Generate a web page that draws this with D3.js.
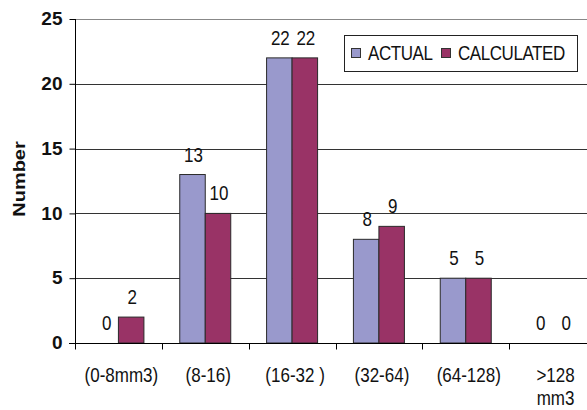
<!DOCTYPE html>
<html>
<head>
<meta charset="utf-8">
<script src="https://cdn.jsdelivr.net/npm/d3@7"></script>
<style>
  html, body { margin: 0; padding: 0; background: #fff; }
  svg { display: block; font-family: "Liberation Sans", Arial, sans-serif; }
</style>
</head>
<body>
<svg id="chart" width="587" height="410"></svg>
<script>
// Size classes (volume ranges) and the two series
const categories = ["(0-8mm3)", "(8-16)", "(16-32 )", "(32-64)", "(64-128)", ">128\nmm3"];
const seriesNames = ["ACTUAL", "CALCULATED"];
const actual = [0, 13, 22, 8, 5, 0];
const calculated = [2, 10, 22, 9, 5, 0];
const yTicks = [0, 5, 10, 15, 20, 25];
const colors = ["#9999cc", "#993366"];

const svg = d3.select("#chart");
const W = 587;
const plotLeft = 75, plotRight = 596, plotTop = 19, plotBottom = 343;
const squeeze = 0.85; // narrow type: glyphs drawn at 85% width

const x = d3.scaleBand().domain(categories).range([plotLeft, plotRight]).padding(0);
const y = d3.scaleLinear().domain([0, 25]).range([plotBottom, plotTop]);
const groupW = 51;
const xs = d3.scaleBand().domain(seriesNames).range([0, groupW]).padding(0);

// places a narrow text label at (px, py)
function narrowText(sel, px, py) {
  return sel.attr("x", 0).attr("y", 0)
    .attr("transform", (d, i) => `translate(${px(d, i)},${py(d, i)}) scale(${squeeze},1)`);
}

// horizontal gridlines
svg.append("g").selectAll("line").data(yTicks.filter(d => d > 0)).join("line")
  .attr("x1", plotLeft).attr("x2", W)
  .attr("y1", d => Math.round(y(d)) + 0.5).attr("y2", d => Math.round(y(d)) + 0.5)
  .attr("stroke", d => d === 25 ? "#888" : "#333").attr("stroke-width", 1);

// bars
const rows = categories.map((c, i) => ({ c, vals: [actual[i], calculated[i]] }));
const groups = svg.append("g").selectAll("g").data(rows).join("g")
  .attr("transform", d => `translate(${x(d.c) + x.bandwidth() / 2 - groupW / 2},0)`);

groups.selectAll("rect").data(d => d.vals.map((v, j) => ({ v, s: seriesNames[j], j }))).join("rect")
  .filter(d => d.v > 0)
  .attr("x", d => xs(d.s))
  .attr("y", d => y(d.v))
  .attr("width", xs.bandwidth())
  .attr("height", d => y(0) - y(d.v))
  .attr("fill", d => colors[d.j])
  .attr("stroke", "#2a2a2a").attr("stroke-width", 1);

// value labels
narrowText(
  groups.selectAll("text").data(d => d.vals.map((v, j) => ({ v, s: seriesNames[j] }))).join("text"),
  d => xs(d.s) + xs.bandwidth() / 2 + 1,
  d => y(d.v) - 13
)
  .attr("text-anchor", "middle")
  .attr("font-size", 20)
  .attr("fill", "#111")
  .text(d => d.v);

// y axis
const yAxis = d3.axisLeft(y).tickValues(yTicks).tickSize(6).tickPadding(7);
const gy = svg.append("g").attr("transform", `translate(${plotLeft + 0.5},0)`).call(yAxis);
gy.select(".domain").attr("stroke", "#000").attr("d", `M0,${plotTop}V${plotBottom}`);
gy.selectAll(".tick line").attr("stroke", "#000");
gy.selectAll(".tick text")
  .attr("font-size", 19).attr("font-weight", "bold")
  .attr("font-family", "Liberation Sans, Arial, sans-serif")
  .attr("fill", "#111").attr("dy", "0.3em");

// x axis
const xAxis = d3.axisBottom(x).tickSize(0).tickFormat("");
const gx = svg.append("g").attr("transform", `translate(0,${plotBottom + 0.5})`).call(xAxis);
gx.select(".domain").attr("stroke", "#000").attr("d", `M${plotLeft - 6},0H${W}`);
// ticks at the category boundaries
gx.append("g").selectAll("line").data(categories).join("line")
  .attr("x1", d => Math.round(x(d)) + 0.5).attr("x2", d => Math.round(x(d)) + 0.5)
  .attr("y1", 0).attr("y2", 6).attr("stroke", "#000");

// category labels (second line for the open-ended class)
const catLines = categories.flatMap(c => c.split("\n").map((line, k) => ({ c, line, k })));
narrowText(
  svg.append("g").selectAll("text").data(catLines).join("text"),
  d => x(d.c) + x.bandwidth() / 2 + 3,
  d => 382 + d.k * 23
)
  .attr("text-anchor", "middle")
  .attr("font-size", 20)
  .attr("fill", "#111")
  .text(d => d.line);

// axis title
svg.append("text")
  .attr("transform", `translate(25,179) scale(${squeeze},1) rotate(-90)`)
  .attr("text-anchor", "middle")
  .attr("font-size", 20).attr("font-weight", "bold")
  .attr("fill", "#111")
  .text("Number");

// legend
const lg = svg.append("g");
lg.append("rect").attr("x", 344.5).attr("y", 35.5).attr("width", 233).attr("height", 36)
  .attr("fill", "#fff").attr("stroke", "#222");
const legendX = [351, 441];
seriesNames.forEach((s, i) => {
  lg.append("rect").attr("x", legendX[i] + 0.5).attr("y", 48.5).attr("width", 9).attr("height", 9)
    .attr("fill", colors[i]).attr("stroke", "#333");
  lg.append("text")
    .attr("transform", `translate(${legendX[i] + 17},60) scale(${squeeze},1)`)
    .attr("font-size", 20).attr("letter-spacing", -0.5).attr("fill", "#111")
    .text(s);
});
</script>
</body>
</html>
